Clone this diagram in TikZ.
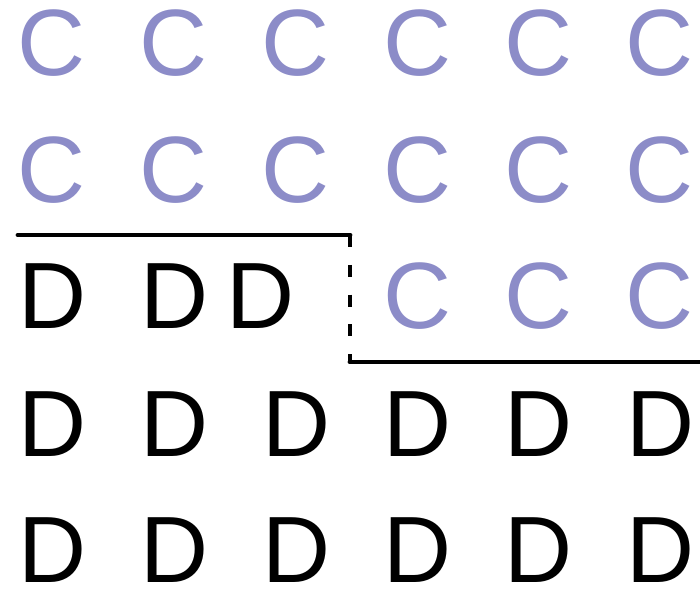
\documentclass[tikz,border=0pt]{standalone}
\usepackage{fontspec}
\setmainfont{Liberation Sans}
\definecolor{lavender}{RGB}{140,140,200}
\begin{document}
\begin{tikzpicture}[x=0.025cm,y=-0.025cm,
    cell/.style={inner sep=0pt,font=\fontsize{67}{67}\selectfont},
    cc/.style={cell,text=lavender},
    dd/.style={cell,text=black},
    cut/.style={line width=3.4pt,line cap=round}]
  \useasboundingbox (0,0) rectangle (700,589);
  % first two rows: all C
  \node[cc] (c11) at (52,43) {C};  \node[cc] (c12) at (174,43) {C};
  \node[cc] (c13) at (296,43) {C}; \node[cc] (c14) at (418,43) {C};
  \node[cc] (c15) at (539,43) {C}; \node[cc] (c16) at (660,43) {C};
  \node[cc] (c21) at (52,170) {C};  \node[cc] (c22) at (174,170) {C};
  \node[cc] (c23) at (296,170) {C}; \node[cc] (c24) at (418,170) {C};
  \node[cc] (c25) at (539,170) {C}; \node[cc] (c26) at (660,170) {C};
  % middle row: D D D then C C C
  \node[dd] (d31) at (53,296) {D};  \node[dd] (d32) at (175,296) {D};
  \node[dd] (d33) at (261,296) {D};
  \node[cc] (c34) at (418,296) {C}; \node[cc] (c35) at (539,296) {C};
  \node[cc] (c36) at (660,296) {C};
  % last two rows: all D
  \node[dd] (d41) at (53,424) {D};  \node[dd] (d42) at (175,424) {D};
  \node[dd] (d43) at (297,424) {D}; \node[dd] (d44) at (418,424) {D};
  \node[dd] (d45) at (539,424) {D}; \node[dd] (d46) at (661,424) {D};
  \node[dd] (d51) at (53,550) {D};  \node[dd] (d52) at (175,550) {D};
  \node[dd] (d53) at (297,550) {D}; \node[dd] (d54) at (418,550) {D};
  \node[dd] (d55) at (539,550) {D}; \node[dd] (d56) at (661,550) {D};
  % the boundary
  \coordinate (left) at (18,235);
  \coordinate (top) at (350,235);
  \coordinate (bot) at (350,362);
  \coordinate (right) at (700,362);
  \draw[cut] (left) -- (top);
  \draw[cut,dash pattern=on 8.5pt off 12.7pt,line cap=butt] (top) -- (bot);
  \draw[cut] (bot) -- (right);
\end{tikzpicture}
\end{document}
